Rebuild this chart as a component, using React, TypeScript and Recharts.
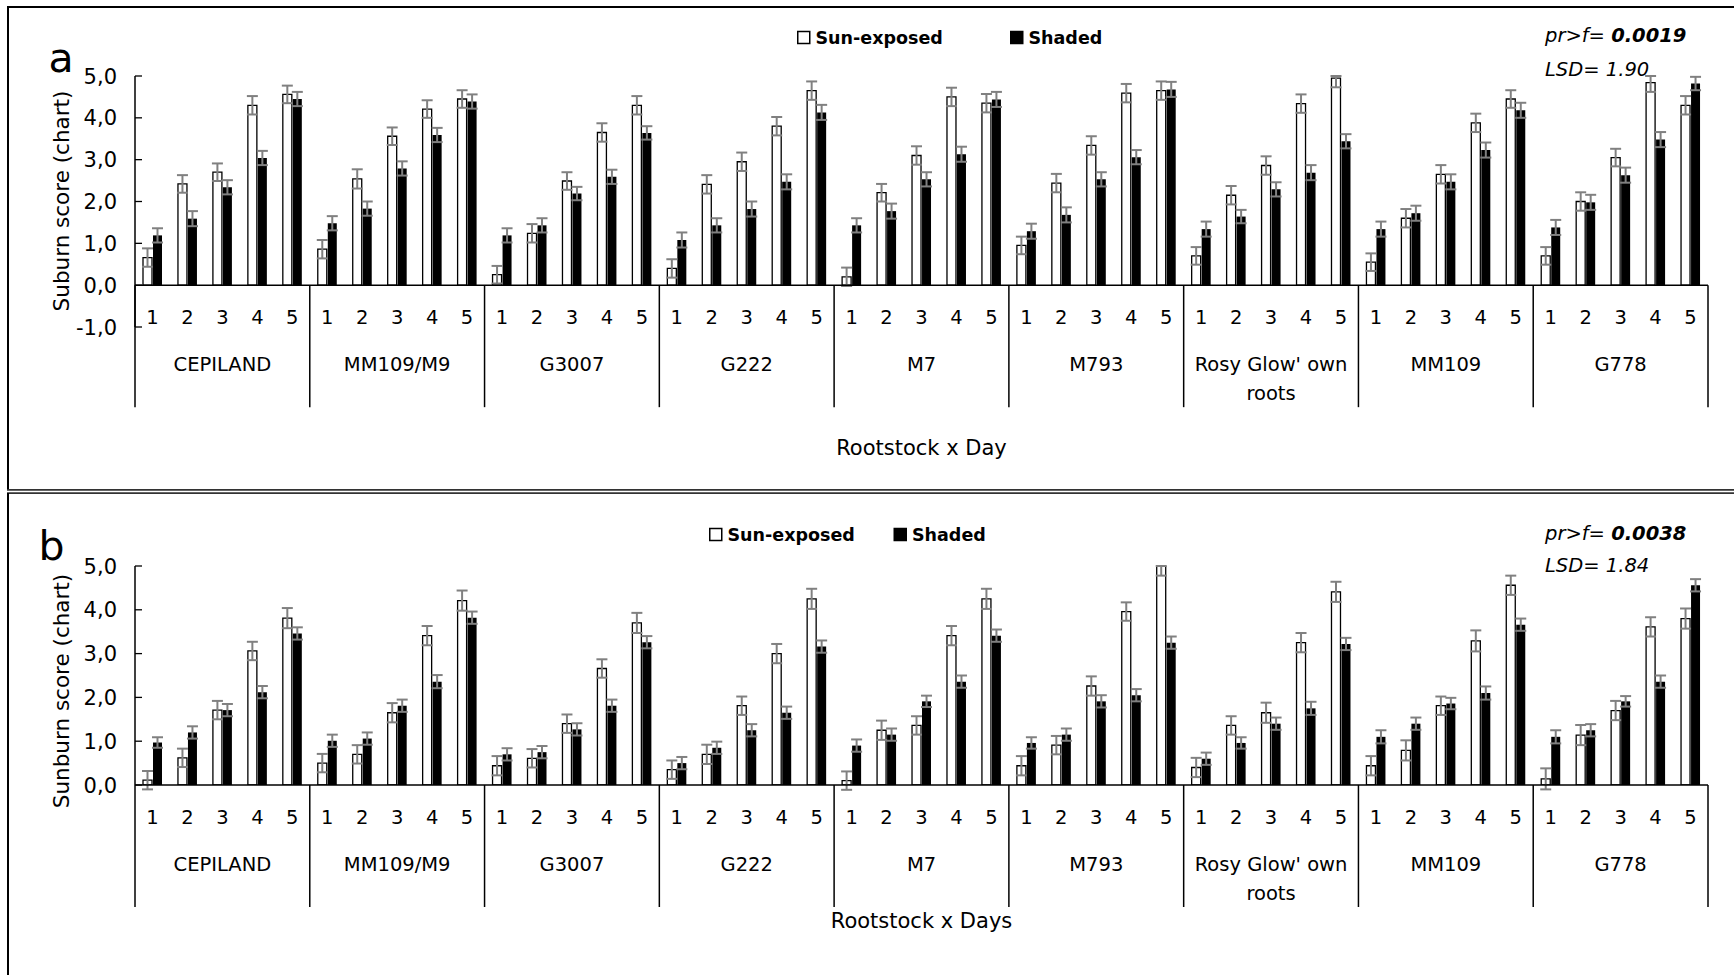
import React from "react";
import { BarChart, Bar, XAxis, YAxis, ErrorBar, ReferenceLine, Legend, Label } from "recharts";

const FONT = "'DejaVu Sans', 'Noto Sans', sans-serif";

const groups = ["CEPILAND", "MM109/M9", "G3007", "G222", "M7", "M793", "Rosy Glow' own roots", "MM109", "G778"];
const days = [1, 2, 3, 4, 5];
const Y_MAX = 5;

// panel a – means per rootstock x day
const sunA = [
  0.66, 2.42, 2.7, 4.3, 4.56, // CEPILAND
  0.86, 2.54, 3.56, 4.21, 4.45, // MM109/M9
  0.25, 1.24, 2.49, 3.65, 4.3, // G3007
  0.4, 2.41, 2.95, 3.8, 4.65, // G222
  0.2, 2.21, 3.1, 4.5, 4.35, // M7
  0.95, 2.44, 3.34, 4.59, 4.65, // M793
  0.7, 2.15, 2.86, 4.34, 4.95, // Rosy Glow
  0.55, 1.6, 2.65, 3.88, 4.45, // MM109
  0.7, 2.0, 3.05, 4.84, 4.3, // G778
];
const shadedA = [
  1.19, 1.59, 2.34, 3.04, 4.45,
  1.48, 1.83, 2.79, 3.59, 4.39,
  1.19, 1.43, 2.19, 2.59, 3.64,
  1.08, 1.43, 1.82, 2.47, 4.13,
  1.43, 1.77, 2.53, 3.13, 4.44,
  1.29, 1.68, 2.53, 3.06, 4.68,
  1.34, 1.64, 2.29, 2.69, 3.44,
  1.34, 1.72, 2.47, 3.23, 4.18,
  1.38, 1.98, 2.63, 3.48, 4.82,
];
const sunErrA = [
  0.22, 0.21, 0.21, 0.22, 0.21,
  0.22, 0.23, 0.21, 0.21, 0.21,
  0.21, 0.22, 0.21, 0.22, 0.22,
  0.22, 0.22, 0.22, 0.22, 0.22,
  0.22, 0.21, 0.22, 0.22, 0.22,
  0.21, 0.22, 0.22, 0.22, 0.22,
  0.21, 0.22, 0.22, 0.22, 0.22,
  0.21, 0.22, 0.22, 0.22, 0.21,
  0.21, 0.22, 0.21, 0.22, 0.22,
];
const shadedErrA = [
  0.17, 0.18, 0.17, 0.17, 0.17,
  0.17, 0.17, 0.17, 0.17, 0.17,
  0.17, 0.17, 0.16, 0.17, 0.16,
  0.18, 0.17, 0.18, 0.18, 0.18,
  0.17, 0.18, 0.17, 0.18, 0.18,
  0.18, 0.18, 0.17, 0.17, 0.18,
  0.18, 0.16, 0.17, 0.18, 0.17,
  0.18, 0.18, 0.18, 0.18, 0.18,
  0.18, 0.18, 0.18, 0.18, 0.16,
];

// panel b
const sunB = [
  0.11, 0.62, 1.71, 3.06, 3.81,
  0.5, 0.7, 1.65, 3.41, 4.21,
  0.44, 0.61, 1.4, 2.66, 3.7,
  0.35, 0.7, 1.81, 3.0, 4.25,
  0.1, 1.25, 1.36, 3.41, 4.25,
  0.44, 0.91, 2.26, 3.96, 5.0,
  0.4, 1.36, 1.65, 3.25, 4.41,
  0.44, 0.79, 1.81, 3.29, 4.56,
  0.14, 1.14, 1.7, 3.61, 3.8,
];
const shadedB = [
  0.97, 1.2, 1.71, 2.12, 3.46,
  1.01, 1.06, 1.81, 2.36, 3.82,
  0.7, 0.75, 1.27, 1.81, 3.26,
  0.5, 0.85, 1.25, 1.65, 3.16,
  0.9, 1.15, 1.91, 2.36, 3.41,
  0.96, 1.15, 1.91, 2.05, 3.25,
  0.6, 0.96, 1.4, 1.75, 3.22,
  1.1, 1.4, 1.86, 2.1, 3.66,
  1.1, 1.25, 1.91, 2.36, 4.56,
];
const sunErrB = [
  0.21, 0.21, 0.21, 0.21, 0.23,
  0.21, 0.21, 0.22, 0.22, 0.23,
  0.22, 0.21, 0.21, 0.21, 0.23,
  0.21, 0.22, 0.21, 0.22, 0.23,
  0.21, 0.22, 0.21, 0.22, 0.23,
  0.22, 0.21, 0.22, 0.21, 0.22,
  0.22, 0.21, 0.23, 0.22, 0.23,
  0.22, 0.23, 0.21, 0.24, 0.22,
  0.24, 0.23, 0.22, 0.22, 0.23,
];
const shadedErrB = [
  0.12, 0.14, 0.14, 0.14, 0.14,
  0.14, 0.14, 0.14, 0.15, 0.14,
  0.14, 0.14, 0.14, 0.14, 0.14,
  0.14, 0.14, 0.14, 0.14, 0.14,
  0.14, 0.14, 0.13, 0.14, 0.14,
  0.13, 0.14, 0.14, 0.14, 0.14,
  0.14, 0.13, 0.14, 0.15, 0.14,
  0.15, 0.14, 0.13, 0.15, 0.14,
  0.15, 0.14, 0.12, 0.14, 0.14,
];

const yTicksA = [-1, 0, 1, 2, 3, 4, 5];
const yTicksB = [0, 1, 2, 3, 4, 5];

const CHART_W = 1734;
const PLOT_LEFT = 135;
const PLOT_RIGHT = 1708;
const SLOT = (PLOT_RIGHT - PLOT_LEFT) / (groups.length * days.length);

// error bars are cut at the top of the value axis, like the original
const errSpan = (v: number, e: number) => [e, Math.max(0, Math.min(e, Y_MAX - v))];

function buildRows(sun: number[], shaded: number[], sunErr: number[], shadedErr: number[]) {
  return groups.flatMap((g, gi) =>
    days.map((d, di) => {
      const i = gi * days.length + di;
      return {
        key: `${g}-${d}`,
        day: d,
        sun: sun[i],
        shaded: shaded[i],
        sunErr: errSpan(sun[i], sunErr[i]),
        shadedErr: errSpan(shaded[i], shadedErr[i]),
      };
    })
  );
}

function wrapLabel(name: string) {
  if (name.length <= 15) return [name];
  const cut = name.lastIndexOf(" ");
  return [name.slice(0, cut), name.slice(cut + 1)];
}

function DayTick(props: any) {
  const { x, y, zeroShift } = props;
  const index = props.index ?? props.payload?.index ?? 0;
  const zero = y - zeroShift;
  const di = index % days.length;
  const gi = Math.floor(index / days.length);
  const last = index === groups.length * days.length - 1;
  const lines = di === 2 ? wrapLabel(groups[gi]) : [];
  return (
    <g>
      {di === 0 && (
        <line x1={x - SLOT / 2} x2={x - SLOT / 2} y1={zero} y2={zero + 122} stroke="#000" strokeWidth={1.5} />
      )}
      {last && <line x1={x + SLOT / 2} x2={x + SLOT / 2} y1={zero} y2={zero + 122} stroke="#000" strokeWidth={1.5} />}
      <text x={x} y={zero + 39} textAnchor="middle" fontSize={19.5} fill="#000" fontFamily={FONT}>
        {days[di]}
      </text>
      {lines.map((t, k) => (
        <text key={k} x={x} y={zero + 85.5 + k * 29.5} textAnchor="middle" fontSize={19.5} fill="#000" fontFamily={FONT}>
          {t}
        </text>
      ))}
    </g>
  );
}

function ValueTick(props: any) {
  const { x, y, payload } = props;
  const label = Number(payload.value).toFixed(1).replace(".", ",");
  return (
    <g>
      <line x1={x} x2={x + 7} y1={y} y2={y} stroke="#000" strokeWidth={1.3} />
      <text x={x - 18} y={y + 7.5} textAnchor="end" fontSize={21} fill="#000" fontFamily={FONT}>
        {label}
      </text>
    </g>
  );
}

function LegendBox(props: any) {
  const { payload = [], shadedOffset } = props;
  return (
    <svg width={shadedOffset + 110} height={30} style={{ display: "block", overflow: "visible" }}>
      {payload.map((entry: any) => {
        const filled = entry.value === "Shaded";
        const x0 = filled ? shadedOffset : 0;
        return (
          <g key={entry.value}>
            <rect x={x0 + 0.75} y={8.5} width={12} height={12} fill={filled ? "#000" : "#fff"} stroke="#000" strokeWidth={1.5} />
            <text x={x0 + 18.5} y={21} fontSize={17.5} fontWeight="bold" fontFamily={FONT} fill="#000">
              {entry.value}
            </text>
          </g>
        );
      })}
    </svg>
  );
}

type Panel = {
  top: number;
  height: number;
  plotTop: number;
  plotBottom: number;
  yMin: number;
  yTicks: number[];
  rows: ReturnType<typeof buildRows>;
  yTitle: string;
  yTitleCy: number;
  xTitle: string;
  xTitleBaseline: number;
  legendY: number;
  legendSunX: number;
  legendShadedX: number;
};

function SunburnPanel({ p }: { p: Panel }) {
  const plotH = p.plotBottom - p.plotTop;
  const zeroShift = (plotH * (0 - p.yMin)) / (Y_MAX - p.yMin);
  return (
    <div style={{ position: "absolute", left: 0, top: p.top }}>
      <BarChart
        width={CHART_W}
        height={p.height}
        data={p.rows}
        margin={{ top: p.plotTop, right: CHART_W - PLOT_RIGHT, bottom: 0, left: 0 }}
        barGap={1}
      >
        <XAxis
          dataKey="key"
          height={p.height - p.plotBottom}
          interval={0}
          axisLine={false}
          tickLine={false}
          tickSize={0}
          tickMargin={0}
          tick={(tp: any) => <DayTick {...tp} zeroShift={zeroShift} />}
        >
          <Label
            content={() => (
              <text
                x={(PLOT_LEFT + PLOT_RIGHT) / 2}
                y={p.xTitleBaseline}
                textAnchor="middle"
                fontSize={21}
                fontFamily={FONT}
                fill="#000"
              >
                {p.xTitle}
              </text>
            )}
          />
        </XAxis>
        <YAxis
          type="number"
          width={PLOT_LEFT}
          domain={[p.yMin, Y_MAX]}
          ticks={p.yTicks}
          interval={0}
          allowDataOverflow
          axisLine={{ stroke: "#000", strokeWidth: 1.5 }}
          tickLine={false}
          tickSize={0}
          tickMargin={0}
          tick={<ValueTick />}
        >
          <Label
            content={() => (
              <text
                x={69}
                y={p.yTitleCy}
                transform={`rotate(-90 69 ${p.yTitleCy})`}
                textAnchor="middle"
                fontSize={21.5}
                fontFamily={FONT}
                fill="#000"
              >
                {p.yTitle}
              </text>
            )}
          />
        </YAxis>
        <Legend
          layout="horizontal"
          verticalAlign="middle"
          align="center"
          wrapperStyle={{ left: p.legendSunX, top: p.legendY - 15, width: "auto" }}
          content={(lp: any) => <LegendBox {...lp} shadedOffset={p.legendShadedX - p.legendSunX} />}
        />
        <Bar dataKey="sun" name="Sun-exposed" fill="#fff" stroke="#000" strokeWidth={1.3} barSize={9} isAnimationActive={false}>
          <ErrorBar dataKey="sunErr" width={5.5} stroke="#808080" strokeWidth={2} direction="y" isAnimationActive={false} />
        </Bar>
        <Bar dataKey="shaded" name="Shaded" fill="#000" barSize={9} isAnimationActive={false}>
          <ErrorBar dataKey="shadedErr" width={5.5} stroke="#808080" strokeWidth={2} direction="y" isAnimationActive={false} />
        </Bar>
        <ReferenceLine y={0} stroke="#000" strokeWidth={1.5} />
      </BarChart>
    </div>
  );
}

const panelA: Panel = {
  top: 0,
  height: 490,
  plotTop: 76,
  plotBottom: 327,
  yMin: -1,
  yTicks: yTicksA,
  rows: buildRows(sunA, shadedA, sunErrA, shadedErrA),
  yTitle: "Suburn score (chart)",
  yTitleCy: 201,
  xTitle: "Rootstock x Day",
  xTitleBaseline: 455,
  legendY: 38,
  legendSunX: 796.5,
  legendShadedX: 1009.5,
};

const panelB: Panel = {
  top: 490,
  height: 485,
  plotTop: 76,
  plotBottom: 295,
  yMin: 0,
  yTicks: yTicksB,
  rows: buildRows(sunB, shadedB, sunErrB, shadedErrB),
  yTitle: "Sunburn score (chart)",
  yTitleCy: 201,
  xTitle: "Rootstock x Days",
  xTitleBaseline: 438,
  legendY: 45,
  legendSunX: 709,
  legendShadedX: 893.5,
};

export default function App() {
  return (
    <div
      style={{
        position: "absolute",
        left: 0,
        top: 0,
        width: 1734,
        height: 975,
        overflow: "hidden",
        background: "#fff",
        fontFamily: FONT,
      }}
    >
      <SunburnPanel p={panelA} />
      <SunburnPanel p={panelB} />
      <svg width={1734} height={975} style={{ position: "absolute", left: 0, top: 0, pointerEvents: "none" }}>
        {/* panel frames */}
        <line x1={7} x2={1734} y1={7} y2={7} stroke="#000" strokeWidth={2} />
        <line x1={8} x2={8} y1={6} y2={490} stroke="#000" strokeWidth={2} />
        <line x1={7} x2={1734} y1={489.8} y2={489.8} stroke="#333" strokeWidth={1.8} />
        <line x1={7} x2={1734} y1={493.2} y2={493.2} stroke="#333" strokeWidth={1.8} />
        <line x1={8} x2={8} y1={493} y2={975} stroke="#000" strokeWidth={2} />

        <text x={48.5} y={72} fontSize={41} fontFamily={FONT} fill="#000">a</text>
        <text x={38.5} y={560} fontSize={41} fontFamily={FONT} fill="#000">b</text>

        <text x={1545} y={41.5} fontSize={19.5} fontStyle="italic" fontFamily={FONT} fill="#000">
          pr&gt;f= <tspan fontWeight="bold">0.0019</tspan>
        </text>
        <text x={1545} y={76} fontSize={19.5} fontStyle="italic" fontFamily={FONT} fill="#000">
          LSD= 1.90
        </text>
        <text x={1545} y={540} fontSize={19.5} fontStyle="italic" fontFamily={FONT} fill="#000">
          pr&gt;f= <tspan fontWeight="bold">0.0038</tspan>
        </text>
        <text x={1545} y={572} fontSize={19.5} fontStyle="italic" fontFamily={FONT} fill="#000">
          LSD= 1.84
        </text>
      </svg>
    </div>
  );
}
